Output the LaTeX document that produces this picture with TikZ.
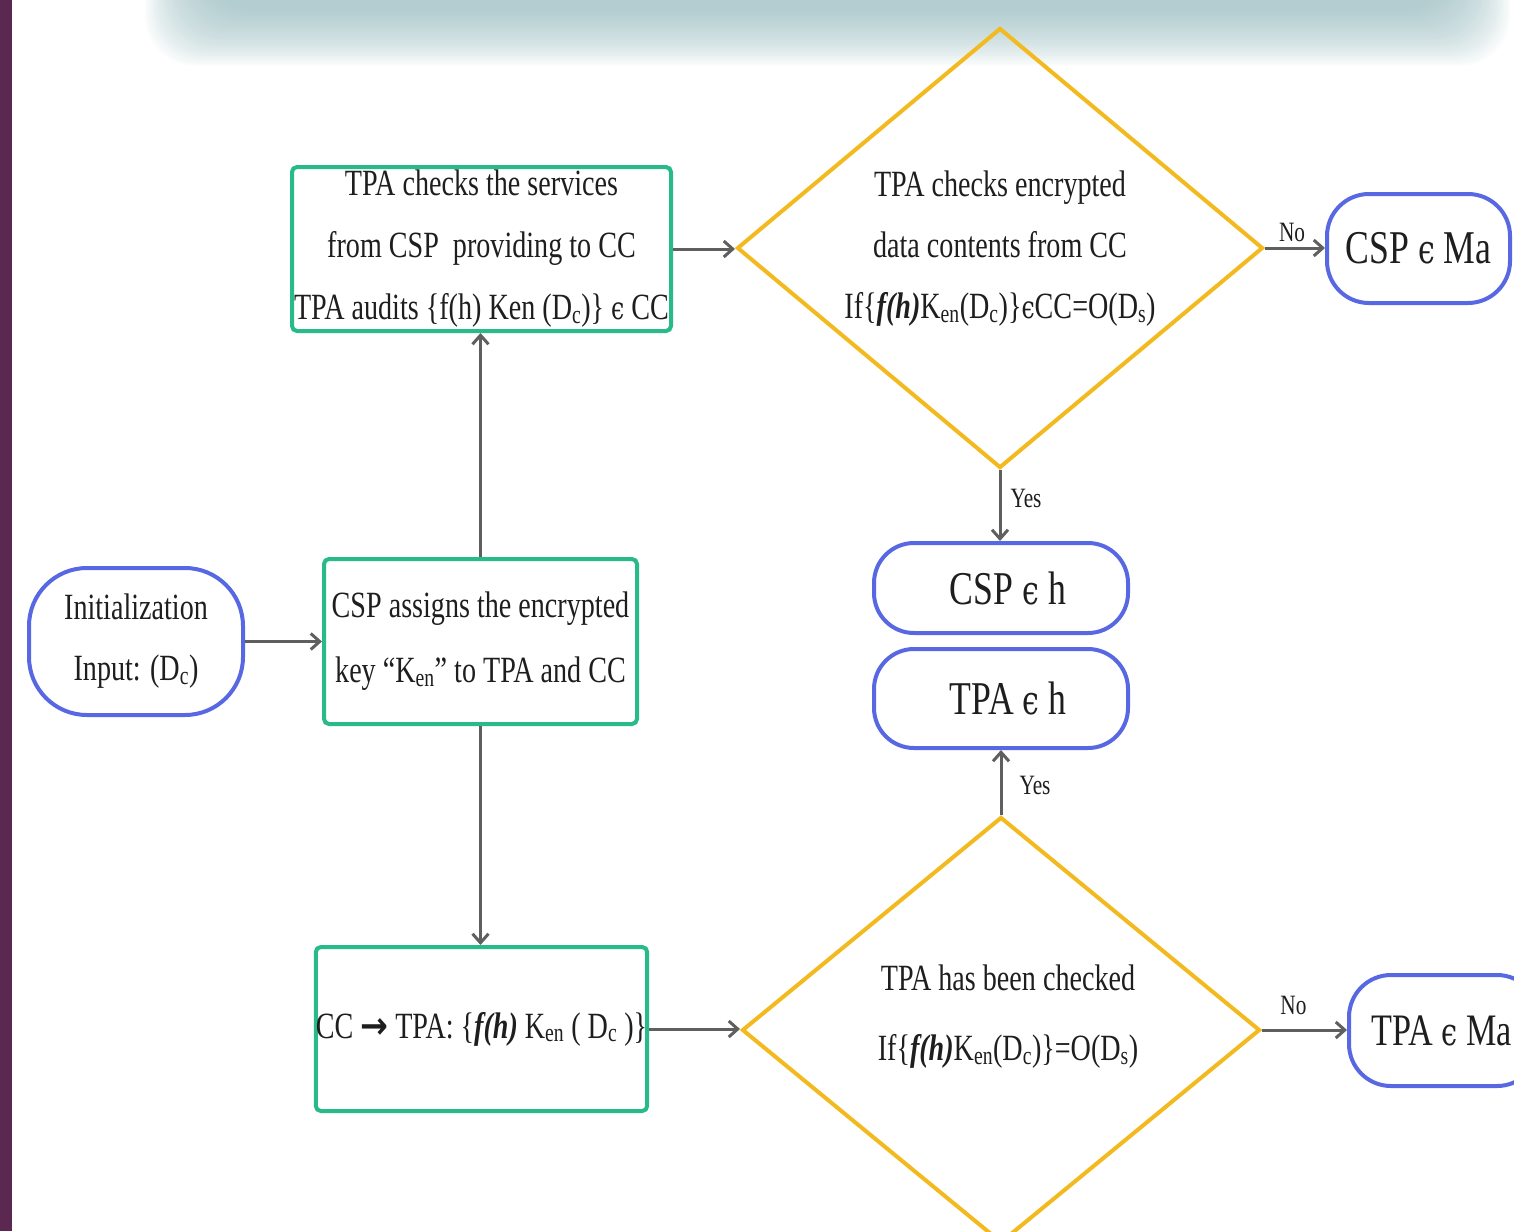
\documentclass[tikz,border=0pt]{standalone}
\usepackage{fontspec}
\setmainfont{Liberation Serif}[FakeStretch=0.76]
\newfontfamily\symf{DejaVu Serif}[FakeStretch=0.75]
\newfontfamily\arrf{DejaVu Sans}[FakeStretch=0.9]
\usetikzlibrary{shapes.geometric,arrows.meta}
\definecolor{grn}{RGB}{40,186,136}
\definecolor{gld}{RGB}{242,186,30}
\definecolor{blu}{RGB}{88,104,226}
\definecolor{arr}{RGB}{95,95,95}
\definecolor{txc}{RGB}{30,30,30}
\definecolor{purp}{RGB}{90,40,80}
\definecolor{shd}{RGB}{146,183,187}
\newcommand{\eps}{{\symf\scalebox{0.85}{ϵ}}}
\newcommand{\fh}{\textbf{\textit{f(h)}}}
\begin{document}
\begin{tikzpicture}[x=1pt,y=-1pt,
  greenbox/.style={draw=grn, line width=4pt, rounded corners=5pt, inner sep=0pt, align=center, text=txc, font=\fontsize{37}{62}\selectfont},
  bluebox/.style={draw=blu, line width=4pt, inner sep=0pt, align=center, text=txc},
  golddia/.style={draw=gld, line width=4pt, diamond, inner sep=0pt},
  txt/.style={align=center, text=txc, inner sep=0pt, font=\fontsize{37}{61}\selectfont},
  lbl/.style={text=txc, inner sep=0pt, font=\fontsize{28}{30}\selectfont},
  conn/.style={draw=arr, line width=3pt, -{Straight Barb[length=9pt,width=16pt,line width=3pt]}}]
\useasboundingbox (0,0) rectangle (1514,1231);
\clip (0,0) rectangle (1514,1231);
% background decorations
\foreach \k in {0,...,29}
  \fill[shd, opacity=0.04, rounded corners=50pt] (145+2*\k,-100) rectangle (1510-2*\k,66-2*\k);
\fill[purp] (0,0) rectangle (12,1231);

% process boxes
\node[greenbox, minimum width=379pt, minimum height=164pt] (ba) at (481.5,249)
  {TPA checks the services\\from CSP\ \ providing to CC\\TPA audits \{f(h) Ken (D\textsubscript{c})\} \eps{} CC};
\node[greenbox, minimum width=313pt, minimum height=165pt, font=\fontsize{37}{65}\selectfont] (bb) at (480.5,641.5)
  {CSP assigns the encrypted\\key “K\textsubscript{en}” to TPA and CC};
\node[greenbox, minimum width=331pt, minimum height=164pt] (bc) at (481.5,1029)
  {CC {\arrf\textbf{→}} TPA: \{\fh{} K\textsubscript{en} ( D\textsubscript{c} )\}};

% terminals
\node[bluebox, rounded corners=58pt, minimum width=214pt, minimum height=147pt, font=\fontsize{37}{61}\selectfont] (init) at (136,641.5)
  {Initialization\\Input: (D\textsubscript{c})};
\node[bluebox, rounded corners=42pt, minimum width=183pt, minimum height=109pt, font=\fontsize{47}{50}\selectfont] (cspma) at (1418.5,248.5)
  {CSP \eps{} Ma};
\node[bluebox, rounded corners=42pt, minimum width=190pt, minimum height=111pt, font=\fontsize{45}{50}\selectfont] (tpama) at (1444,1030.5)
  {\hspace*{-4pt}TPA \eps{} Ma};
\node[bluebox, rounded corners=40pt, minimum width=254pt, minimum height=90pt, font=\fontsize{47}{50}\selectfont] (csph) at (1001,588)
  {\hspace*{14pt}CSP \eps{} h};
\node[bluebox, rounded corners=40pt, minimum width=254pt, minimum height=99pt, font=\fontsize{47}{50}\selectfont] (tpah) at (1001,698.5)
  {\hspace*{14pt}TPA \eps{} h};

% decisions
\node[golddia, minimum width=526pt, minimum height=440pt] (d1) at (1000,248) {};
\node[txt] (d1t) at (1000,249)
  {TPA checks encrypted\\data contents from CC\\If\{\fh K\textsubscript{en}(D\textsubscript{c})\}\eps CC=O(D\textsubscript{s})};
\node[golddia, minimum width=518pt, minimum height=426pt] (d2) at (1001,1030) {};
\node[txt, font=\fontsize{37}{70}\selectfont] (d2t) at (1008,1017)
  {TPA has been checked\\If\{\fh K\textsubscript{en}(D\textsubscript{c})\}=O(D\textsubscript{s})};

% connectors
\draw[conn] (init.east) -- (bb.west);
\draw[conn] (bb.north) -- (bb.north |- ba.south);
\draw[conn] (bb.south) -- (bb.south |- bc.north);
\draw[conn] (ba.east) -- (ba.east -| d1.west);
\draw[conn] (d1.east) -- node[lbl, above=5pt, pos=0.45] {No} (d1.east -| cspma.west);
\draw[conn] (d1.south) -- node[lbl, right=9pt, pos=0.4] {Yes} (d1.south |- csph.north);
\draw[conn] (bc.east) -- (bc.east -| d2.west);
\draw[conn] (d2.north) -- node[lbl, right=17pt, pos=0.45] {Yes} (d2.north |- tpah.south);
\draw[conn] (d2.east) -- node[lbl, above=14pt, pos=0.37] {No} (d2.east -| tpama.west);
\end{tikzpicture}
\end{document}
